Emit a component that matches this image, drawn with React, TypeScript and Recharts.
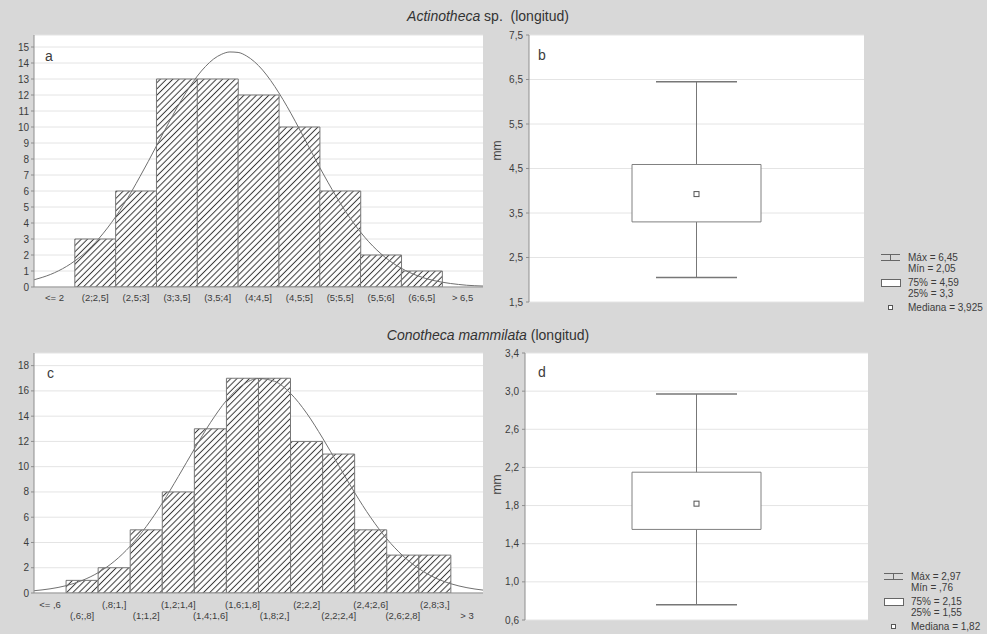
import React from 'react';
import { ComposedChart, Bar, Line, XAxis, YAxis, CartesianGrid, Scatter, Label } from 'recharts';

// ---------- Data: Actinotheca sp. ----------
const binsA = ['<= 2', '(2;2,5]', '(2,5;3]', '(3;3,5]', '(3,5;4]', '(4;4,5]', '(4,5;5]', '(5;5,5]', '(5,5;6]', '(6;6,5]', '> 6,5'];
const countsA = [0, 3, 6, 13, 13, 12, 10, 6, 2, 1, 0];
const fitXA = [1.5, 1.6, 1.7, 1.8, 1.9, 2.0, 2.1, 2.2, 2.3, 2.4, 2.5, 2.6, 2.7, 2.8, 2.9, 3.0, 3.1, 3.2, 3.3, 3.4, 3.5, 3.6, 3.7, 3.8, 3.9, 4.0, 4.1, 4.2, 4.3, 4.4, 4.5, 4.6, 4.7, 4.8, 4.9, 5.0, 5.1, 5.2, 5.3, 5.4, 5.5, 5.6, 5.7, 5.8, 5.9, 6.0, 6.1, 6.2, 6.3, 6.4, 6.5, 6.6, 6.7, 6.8, 6.9, 7.0];
const fitYA = [0.45, 0.6, 0.78, 1.01, 1.29, 1.63, 2.03, 2.51, 3.06, 3.69, 4.39, 5.17, 6.01, 6.92, 7.85, 8.82, 9.78, 10.73, 11.63, 12.45, 13.18, 13.78, 14.25, 14.55, 14.69, 14.66, 14.45, 14.08, 13.56, 12.9, 12.13, 11.28, 10.36, 9.4, 8.43, 7.47, 6.55, 5.67, 4.85, 4.1, 3.43, 2.83, 2.31, 1.86, 1.48, 1.17, 0.91, 0.7, 0.53, 0.4, 0.3, 0.22, 0.16, 0.11, 0.08, 0.06];
const yTicksA = [0, 1, 2, 3, 4, 5, 6, 7, 8, 9, 10, 11, 12, 13, 14, 15];
// min, q1, median, q3, max
const boxStatsB = [2.05, 3.3, 3.925, 4.59, 6.45];
const yTicksB = [1.5, 2.5, 3.5, 4.5, 5.5, 6.5, 7.5];

// ---------- Data: Conotheca mammilata ----------
const binsC = ['<= ,6', '(,6;,8]', '(,8;1,]', '(1;1,2]', '(1,2;1,4]', '(1,4;1,6]', '(1,6;1,8]', '(1,8;2,]', '(2;2,2]', '(2,2;2,4]', '(2,4;2,6]', '(2,6;2,8]', '(2,8;3,]', '> 3'];
const countsC = [0, 1, 2, 5, 8, 13, 17, 17, 12, 11, 5, 3, 3, 0];
const fitXC = [0.4, 0.5, 0.6, 0.7, 0.8, 0.9, 1.0, 1.1, 1.2, 1.3, 1.4, 1.5, 1.6, 1.7, 1.8, 1.9, 2.0, 2.1, 2.2, 2.3, 2.4, 2.5, 2.6, 2.7, 2.8, 2.9, 3.0, 3.1, 3.2];
const fitYC = [0.18, 0.33, 0.58, 0.99, 1.61, 2.5, 3.71, 5.26, 7.12, 9.22, 11.4, 13.48, 15.24, 16.46, 16.98, 16.76, 15.8, 14.24, 12.26, 10.09, 7.94, 5.97, 4.29, 2.95, 1.93, 1.21, 0.73, 0.42, 0.23];
const yTicksC = [0, 2, 4, 6, 8, 10, 12, 14, 16, 18];
const boxStatsD = [0.76, 1.55, 1.82, 2.15, 2.97];
const yTicksD = [0.6, 1.0, 1.4, 1.8, 2.2, 2.6, 3.0, 3.4];

const FONT = '"Liberation Sans", Arial, Helvetica, sans-serif';
const BORDER = '#8e8e8e';
const GRID = '#e4e4e4';
const TEXT = '#3c3c3c';

const fmtComma = (v: number) => String(v).replace('.', ',').replace(/^0,/, ',');

function Histogram(props: any) {
  const { bins, counts, fitX, fitY, yMax, yTicks, xDomain, letter, twoRow, patternId, margin, xAxisHeight } = props;
  const data = bins.map((b: string, i: number) => ({ bin: b, count: counts[i] }));
  const fit = fitX.map((x: number, i: number) => ({ x, y: fitY[i] }));
  const renderTick = (p: any) => {
    const off = twoRow ? (p.index % 2 === 1 ? 22 : 11) : 10;
    return (
      <text x={p.x} y={p.y + off} textAnchor="middle" dominantBaseline="central" fontSize={9.5} fill={TEXT} fontFamily={FONT}>
        {p.payload.value}
      </text>
    );
  };
  return (
    <ComposedChart width={490} height={312} data={data} margin={margin} barCategoryGap={0} barGap={0}>
      <defs>
        <pattern id={patternId} patternUnits="userSpaceOnUse" width={4.4} height={4.4} patternTransform="rotate(45)">
          <rect x={0} y={0} width={4.4} height={4.4} fill="#ffffff" />
          <line x1={2.2} y1={0} x2={2.2} y2={4.4} stroke="#3a3a3a" strokeWidth={1} />
        </pattern>
      </defs>
      <CartesianGrid xAxisId="cat" yAxisId="l" vertical={false} stroke={GRID} fill="#ffffff" />
      <XAxis
        xAxisId="cat"
        dataKey="bin"
        type="category"
        interval={0}
        height={xAxisHeight}
        tickSize={0}
        tickMargin={0}
        tickLine={false}
        axisLine={{ stroke: BORDER }}
        tick={renderTick}
      />
      <XAxis
        xAxisId="num"
        dataKey="x"
        type="number"
        orientation="top"
        domain={xDomain}
        allowDataOverflow
        height={0}
        tick={false}
        tickLine={false}
        axisLine={{ stroke: BORDER }}
      />
      <YAxis
        yAxisId="l"
        type="number"
        domain={[0, yMax]}
        ticks={yTicks}
        allowDataOverflow
        interval={0}
        width={34}
        tickSize={3}
        tickMargin={2}
        tickLine={{ stroke: BORDER }}
        axisLine={{ stroke: BORDER }}
        tick={{ fontSize: 10, fill: TEXT, fontFamily: FONT }}
      />
      <YAxis yAxisId="r" orientation="right" type="number" domain={[0, 1]} width={0} tick={false} tickLine={false} axisLine={{ stroke: BORDER }} />
      <Bar xAxisId="cat" yAxisId="l" dataKey="count" fill={`url(#${patternId})`} stroke="#777777" strokeWidth={1} isAnimationActive={false} />
      <Line xAxisId="num" yAxisId="l" data={fit} dataKey="y" type="monotone" stroke="#707070" strokeWidth={1} dot={false} isAnimationActive={false} />
      <text x={letter.x} y={letter.y} dominantBaseline="central" fontSize={14} fill={TEXT} fontFamily={FONT}>
        {letter.t}
      </text>
    </ComposedChart>
  );
}

const WhiskerShape = (p: any) => {
  const cx = p.x + p.width / 2;
  const top = Math.min(p.y, p.y + p.height);
  const bot = Math.max(p.y, p.y + p.height);
  return (
    <g stroke="#777777" strokeWidth={1}>
      <line x1={cx} x2={cx} y1={top} y2={bot} />
      <line x1={p.x} x2={p.x + p.width} y1={top} y2={top} strokeWidth={1.5} />
      <line x1={p.x} x2={p.x + p.width} y1={bot} y2={bot} strokeWidth={1.5} />
    </g>
  );
};

const MedianShape = (p: any) => (
  <rect x={p.cx - 2.5} y={p.cy - 2.5} width={5} height={5} fill="#ffffff" stroke="#555555" strokeWidth={1} />
);

function BoxPlot(props: any) {
  const { stats, yDomain, yTicks, letter, margin, yWidth, mmDy, decimals } = props;
  const [mn, q1, med, q3, mx] = stats;
  const data = [{ name: 'g', whisker: [mn, mx], box: [q1, q3], median: med }];
  const mmLabel = (lp: any) => {
    const vb = lp.viewBox;
    const x = vb.x + 17;
    const y = vb.y + vb.height / 2 + mmDy;
    return (
      <text x={x} y={y} transform={`rotate(-90, ${x}, ${y})`} textAnchor="middle" dominantBaseline="central" fontSize={12} fill={TEXT} fontFamily={FONT}>
        mm
      </text>
    );
  };
  return (
    <ComposedChart width={400} height={312} data={data} margin={margin}>
      <CartesianGrid xAxisId="w" yAxisId="l" vertical={false} stroke={GRID} fill="#ffffff" />
      <XAxis xAxisId="w" dataKey="name" hide />
      <XAxis xAxisId="b" dataKey="name" hide />
      <XAxis xAxisId="top" dataKey="name" orientation="top" height={0} tick={false} tickLine={false} axisLine={{ stroke: BORDER }} />
      <XAxis xAxisId="bot" dataKey="name" orientation="bottom" height={0} tick={false} tickLine={false} axisLine={{ stroke: BORDER }} />
      <YAxis
        yAxisId="l"
        type="number"
        domain={yDomain}
        ticks={yTicks}
        allowDataOverflow
        interval={0}
        width={yWidth}
        tickSize={3}
        tickMargin={3}
        tickLine={{ stroke: BORDER }}
        axisLine={{ stroke: BORDER }}
        tick={{ fontSize: 10, fill: TEXT, fontFamily: FONT }}
        tickFormatter={(v: number) => v.toFixed(decimals).replace('.', ',')}
        label={<Label content={mmLabel} />}
      />
      <YAxis yAxisId="r" orientation="right" type="number" domain={[0, 1]} width={0} tick={false} tickLine={false} axisLine={{ stroke: BORDER }} />
      <Bar xAxisId="w" yAxisId="l" dataKey="whisker" barSize={81} shape={WhiskerShape} isAnimationActive={false} />
      <Bar xAxisId="b" yAxisId="l" dataKey="box" barSize={129} fill="#ffffff" stroke="#808080" strokeWidth={1} isAnimationActive={false} />
      <Scatter xAxisId="b" yAxisId="l" dataKey="median" shape={MedianShape} isAnimationActive={false} />
      <text x={letter.x} y={letter.y} dominantBaseline="central" fontSize={14} fill={TEXT} fontFamily={FONT}>
        {letter.t}
      </text>
    </ComposedChart>
  );
}

function BoxLegend(props: any) {
  const { stats, left, top } = props;
  const [mn, q1, med, q3, mx] = stats;
  const ts = { fontSize: 10, fill: TEXT, fontFamily: FONT } as any;
  return (
    <svg style={{ position: 'absolute', left, top }} width={107} height={64}>
      <g stroke="#666666" strokeWidth={1} fill="none">
        <line x1={1} x2={20} y1={3.5} y2={3.5} />
        <line x1={1} x2={20} y1={9.5} y2={9.5} />
        <line x1={10.5} x2={10.5} y1={3.5} y2={9.5} />
      </g>
      <rect x={1.5} y={28.5} width={19} height={7} fill="#ffffff" stroke="#666666" strokeWidth={1} />
      <rect x={8.5} y={54.5} width={4} height={4} fill="#ffffff" stroke="#555555" strokeWidth={1} />
      <text x={28} y={6.5} dominantBaseline="central" {...ts}>{`Máx = ${fmtComma(mx)}`}</text>
      <text x={28} y={17.5} dominantBaseline="central" {...ts}>{`Mín = ${fmtComma(mn)}`}</text>
      <text x={28} y={31.5} dominantBaseline="central" {...ts}>{`75% = ${fmtComma(q3)}`}</text>
      <text x={28} y={42.5} dominantBaseline="central" {...ts}>{`25% = ${fmtComma(q1)}`}</text>
      <text x={28} y={56.5} dominantBaseline="central" {...ts}>{`Mediana = ${fmtComma(med)}`}</text>
    </svg>
  );
}

export default function App() {
  const titleStyle: any = {
    position: 'absolute',
    left: 0,
    width: 976,
    textAlign: 'center',
    fontSize: 14,
    color: '#333333',
    fontFamily: FONT,
    lineHeight: '16px',
    whiteSpace: 'pre',
  };
  return (
    <div style={{ position: 'absolute', left: 0, top: 0, width: 987, height: 634, background: '#d8d8d8', overflow: 'hidden', fontFamily: FONT }}>
      <div style={{ ...titleStyle, top: 8 }}>
        <i>Actinotheca</i>{' sp.  (longitud)'}
      </div>
      <div style={{ ...titleStyle, top: 327 }}>
        <i>Conotheca mammilata</i>{' (longitud)'}
      </div>

      <div style={{ position: 'absolute', left: 0, top: 0 }}>
        <Histogram
          bins={binsA}
          counts={countsA}
          fitX={fitXA}
          fitY={fitYA}
          yMax={15.75}
          yTicks={yTicksA}
          xDomain={[1.5, 7.0]}
          letter={{ t: 'a', x: 45, y: 56 }}
          twoRow={false}
          patternId="hatchA"
          margin={{ top: 35, right: 7, bottom: 5, left: 0 }}
          xAxisHeight={20}
        />
      </div>
      <div style={{ position: 'absolute', left: 480, top: 0 }}>
        <BoxPlot
          stats={boxStatsB}
          yDomain={[1.5, 7.5]}
          yTicks={yTicksB}
          letter={{ t: 'b', x: 58, y: 55 }}
          margin={{ top: 35, right: 16, bottom: 10, left: 0 }}
          yWidth={49}
          mmDy={-18}
          decimals={1}
        />
      </div>
      <BoxLegend stats={boxStatsB} left={880} top={251} />

      <div style={{ position: 'absolute', left: 0, top: 320 }}>
        <Histogram
          bins={binsC}
          counts={countsC}
          fitX={fitXC}
          fitY={fitYC}
          yMax={19}
          yTicks={yTicksC}
          xDomain={[0.4, 3.2]}
          letter={{ t: 'c', x: 47, y: 53 }}
          twoRow={true}
          patternId="hatchC"
          margin={{ top: 33, right: 7, bottom: 9, left: 0 }}
          xAxisHeight={30}
        />
      </div>
      <div style={{ position: 'absolute', left: 480, top: 320 }}>
        <BoxPlot
          stats={boxStatsD}
          yDomain={[0.6, 3.4]}
          yTicks={yTicksD}
          letter={{ t: 'd', x: 58, y: 52 }}
          margin={{ top: 33, right: 12, bottom: 12, left: 0 }}
          yWidth={45}
          mmDy={-2}
          decimals={1}
        />
      </div>
      <BoxLegend stats={boxStatsD} left={883} top={570} />
    </div>
  );
}
